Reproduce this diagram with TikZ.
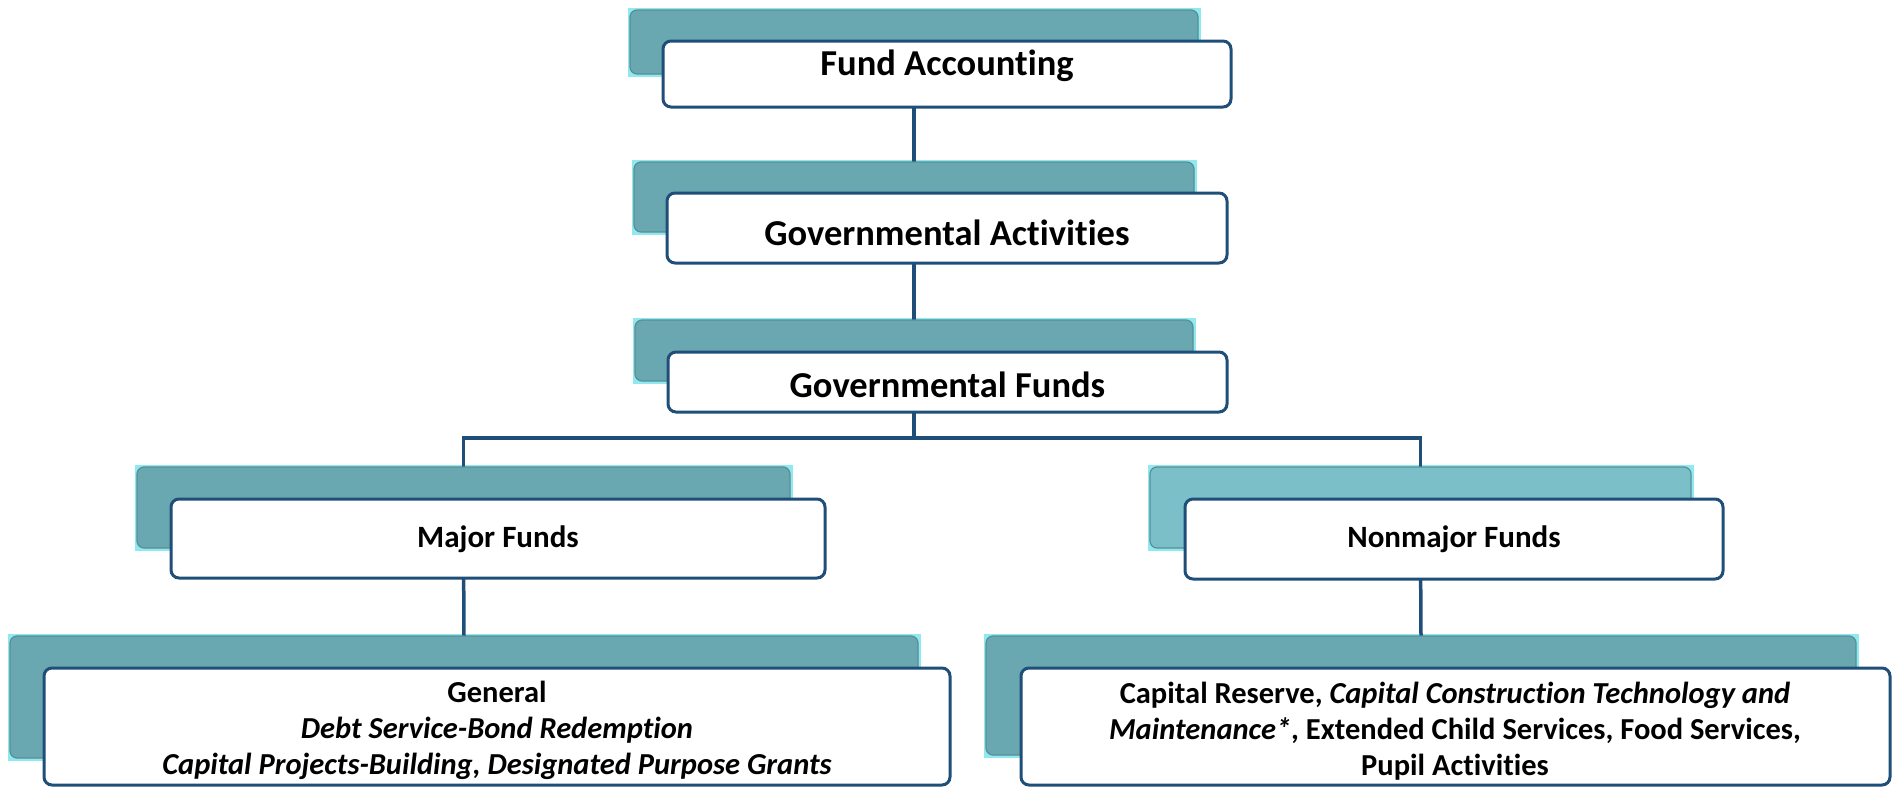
\documentclass[tikz,border=0pt]{standalone}
\usepackage{fontspec}
\setmainfont{Carlito}[Ligatures=NoCommon]
\usetikzlibrary{backgrounds}
\definecolor{navy}{HTML}{1F4E79}
\definecolor{tealback}{HTML}{6AA8B1}
\definecolor{teallight}{HTML}{7BBFC9}
\definecolor{tealedge}{HTML}{5A8E96}
\definecolor{glowcyan}{HTML}{8FE9F1}
\begin{document}
\begin{tikzpicture}[x=1pt,y=-1pt,
  backbox/.style={draw=tealedge, line width=1.2pt, fill=tealback, rounded corners=7pt,
    inner sep=0pt, outer sep=0pt},
  frontbox/.style={draw=navy, line width=3pt, fill=white, rounded corners=8pt,
    inner sep=0pt, outer sep=0pt},
  glow/.style={fill=glowcyan},
  conn/.style={draw=navy, line width=3.5pt},
  bigtext/.style={font=\fontsize{36.5}{44}\selectfont\bfseries, inner sep=0pt, anchor=base},
  midtext/.style={font=\fontsize{31}{37}\selectfont\bfseries, inner sep=0pt, anchor=base},
  leaftext/.style={font=\fontsize{30.5}{36}\selectfont\bfseries, inner sep=0pt, align=center}
]
\useasboundingbox (0,0) rectangle (1899,787);

% back (shadow) boxes
\node[backbox, minimum width=568pt, minimum height=64pt] (b1) at (914,42) {};
\node[backbox, minimum width=560pt, minimum height=70pt] (b2) at (914,197) {};
\node[backbox, minimum width=558pt, minimum height=61pt] (b3) at (914,350.5) {};
\node[backbox, minimum width=653pt, minimum height=81pt] (b4) at (463.5,507.5) {};
\node[backbox, fill=teallight, minimum width=541pt, minimum height=81pt] (b5) at (1420.5,507.5) {};
\node[backbox, minimum width=908pt, minimum height=122pt] (b6) at (464,697) {};
\node[backbox, minimum width=870pt, minimum height=119pt] (b7) at (1421,695.5) {};

% front boxes
\node[frontbox, minimum width=568pt, minimum height=66pt] (f1) at (947,74) {};
\node[frontbox, minimum width=560pt, minimum height=70pt] (f2) at (947,228) {};
\node[frontbox, minimum width=559pt, minimum height=60pt] (f3) at (947.5,382) {};
\node[frontbox, minimum width=654pt, minimum height=79pt] (f4) at (498,538.5) {};
\node[frontbox, minimum width=538pt, minimum height=80pt] (f5) at (1454,539) {};
\node[frontbox, minimum width=906pt, minimum height=117pt] (f6) at (497,726.5) {};
\node[frontbox, minimum width=869pt, minimum height=117pt] (f7) at (1455.5,726.5) {};

% labels
\node[bigtext] (t1) at (947,75) {Fund Accounting};
\node[bigtext] (t2) at (947,245) {Governmental Activities};
\node[bigtext] (t3) at (947.5,397) {Governmental Funds};
\node[midtext] (t4) at (498,547) {Major Funds};
\node[midtext] (t5) at (1454,547) {Nonmajor Funds};
\node[leaftext] (t6) at (497,730) {General\\
  \itshape Debt Service-Bond Redemption\\
  \itshape Capital Projects-Building, Designated Purpose Grants};
\node[leaftext] (t7) at (1455,731) {Capital Reserve, \textit{Capital Construction Technology and}\\
  \textit{Maintenance*}, Extended Child Services, Food Services,\\
  Pupil Activities};

\begin{scope}[on background layer]
  % light halo round the back boxes
  \foreach \b in {b1,b2,b3,b4,b5,b6,b7}
    \fill[glow] ([shift={(-2.5,-2.5)}]\b.north west) rectangle ([shift={(2.5,2.5)}]\b.south east);
  % connectors
  \coordinate (bus) at (914,438);
  \draw[conn] (b1.south) -- (b2.north);
  \draw[conn] (b2.south) -- (b3.north);
  \draw[conn] (b3.south) -- (bus);
  \draw[conn] (b4.north) |- (bus) -| (b5.north);
  \draw[conn] (b4.south) -- (b6.north);
  \draw[conn] (b5.south) -- (b7.north);
\end{scope}
\end{tikzpicture}
\end{document}
